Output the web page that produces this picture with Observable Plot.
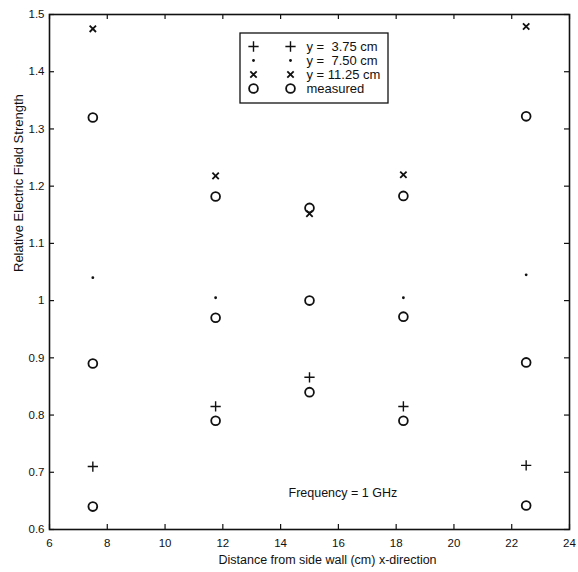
<!DOCTYPE html>
<html><head><meta charset="utf-8">
<script src="https://cdn.jsdelivr.net/npm/d3@7"></script>
<script src="https://cdn.jsdelivr.net/npm/@observablehq/plot@0.6"></script>
<style>
body{margin:0;background:#fff;}
svg text{white-space:pre;}
</style>
</head><body><div id="chart"></div>
<script>
// ---- data ----
const xPos375 = [7.5, 11.75, 15, 18.25, 22.5];
const val375  = [0.71, 0.815, 0.866, 0.815, 0.712];
const xPos750 = [7.5, 11.75, 18.25, 22.5];
const val750  = [1.04, 1.005, 1.005, 1.045];
const xPos1125 = [7.5, 11.75, 15, 18.25, 22.5];
const val1125  = [1.475, 1.218, 1.152, 1.22, 1.479];
const measuredX = [7.5, 7.5, 7.5, 11.75, 11.75, 11.75, 15, 15, 15, 18.25, 18.25, 18.25, 22.5, 22.5, 22.5];
const measuredY = [1.32, 0.89, 0.64, 1.182, 0.97, 0.79, 1.162, 1.0, 0.84, 1.183, 0.972, 0.79, 1.322, 0.892, 0.642];
const legendLabels = ["y =  3.75 cm", "y =  7.50 cm", "y = 11.25 cm", "measured"];
const legendSymbols = ["plus", "dot", "times", "circle"];
const xTicks = [6, 8, 10, 12, 14, 16, 18, 20, 22, 24];
const xTickLabels = ["6", "8", "10", "12", "14", "16", "18", "20", "22", "24"];
const yTicks = [0.6, 0.7, 0.8, 0.9, 1.0, 1.1, 1.2, 1.3, 1.4, 1.5];
const yTickLabels = ["0.6", "0.7", "0.8", "0.9", "1", "1.1", "1.2", "1.3", "1.4", "1.5"];
const xTitle = "Distance from side wall (cm) x-direction";
const yTitle = "Relative Electric Field Strength";
const note = "Frequency = 1 GHz";

// ---- layout ----
const W = 578, H = 572;
const mL = 49, mR = 9, mT = 14, mB = 43;
const xDom = [6, 24], yDom = [0.6, 1.5];
const px2x = px => xDom[0] + (px - mL) * (xDom[1] - xDom[0]) / (W - mL - mR);
const py2y = py => yDom[1] - (py - mT) * (yDom[1] - yDom[0]) / (H - mT - mB);
const tickLenX = 5 * (xDom[1] - xDom[0]) / (W - mL - mR);
const tickLenY = 5 * (yDom[1] - yDom[0]) / (H - mT - mB);

const s375 = xPos375.map((x, i) => ({x, y: val375[i]}));
const s750 = xPos750.map((x, i) => ({x, y: val750[i]}));
const s1125 = xPos1125.map((x, i) => ({x, y: val1125[i]}));
const sMeas = measuredX.map((x, i) => ({x, y: measuredY[i]}));

const legRowsPy = [46, 60, 74, 88];
const legend = legendLabels.map((label, i) => ({label, sym: legendSymbols[i], y: py2y(legRowsPy[i])}));
const legCol1 = px2x(253), legCol2 = px2x(290), legText = px2x(306);

const font = "'Liberation Sans', Arial, Helvetica, sans-serif";
const ink = "#111";

function symMarks(data, sym, xs) {
  const out = [];
  for (const xv of xs) {
    const base = {x: xv, y: "y"};
    if (sym === "plus") out.push(Plot.dot(data, {...base, symbol: "plus", r: 3.4, stroke: ink, strokeWidth: 1.4}));
    if (sym === "times") out.push(Plot.dot(data, {...base, symbol: "times", r: 3.0, stroke: ink, strokeWidth: 1.8}));
    if (sym === "dot") out.push(Plot.dot(data, {...base, r: 1.4, fill: ink, stroke: "none"}));
    if (sym === "circle") out.push(Plot.dot(data, {...base, r: 4.4, stroke: ink, strokeWidth: 1.8, fill: "none"}));
  }
  return out;
}

const legendMarks = [];
for (const row of legend) {
  legendMarks.push(...symMarks([row], row.sym, [() => legCol1, () => legCol2]));
}

const chart = Plot.plot({
  width: W, height: H,
  marginLeft: mL, marginRight: mR, marginTop: mT, marginBottom: mB,
  style: {fontFamily: font, fontSize: "11px", color: ink, background: "#fff"},
  x: {domain: xDom},
  y: {domain: yDom},
  marks: [
    Plot.frame({stroke: ink, strokeWidth: 1.6}),
    // inward ticks on all four sides
    Plot.ruleX(xTicks, {x: d => d, y1: () => yDom[0], y2: () => yDom[0] + tickLenY, stroke: ink, strokeWidth: 1.2}),
    Plot.ruleX(xTicks, {x: d => d, y1: () => yDom[1], y2: () => yDom[1] - tickLenY, stroke: ink, strokeWidth: 1.2}),
    Plot.ruleY(yTicks, {y: d => d, x1: () => xDom[0], x2: () => xDom[0] + tickLenX, stroke: ink, strokeWidth: 1.2}),
    Plot.ruleY(yTicks, {y: d => d, x1: () => xDom[1], x2: () => xDom[1] - tickLenX, stroke: ink, strokeWidth: 1.2}),
    Plot.axisX({ticks: xTicks, tickFormat: d => xTickLabels[xTicks.indexOf(d)], tickSize: 0, tickPadding: 9, label: null, fontSize: 11.5}),
    Plot.axisY({ticks: yTicks, tickFormat: d => yTickLabels[yTicks.findIndex(t => Math.abs(t - d) < 1e-9)], tickSize: 0, tickPadding: 5, label: null, fontSize: 11.5}),
    Plot.text([xTitle], {frameAnchor: "bottom", dx: 18, dy: 34, fontSize: 12.5, fill: ink}),
    Plot.text([yTitle], {frameAnchor: "left", dx: -31, rotate: -90, fontSize: 13, fill: ink}),
    // data
    ...symMarks(s375, "plus", ["x"]),
    ...symMarks(s750, "dot", ["x"]),
    ...symMarks(s1125, "times", ["x"]),
    ...symMarks(sMeas, "circle", ["x"]),
    // annotation
    Plot.text([note], {x: () => px2x(288), y: () => py2y(492), textAnchor: "start", fontSize: 12.5, fill: ink}),
    // legend
    Plot.rect([0], {x1: () => px2x(240), x2: () => px2x(388), y1: () => py2y(33), y2: () => py2y(103), fill: "#fff", stroke: ink, strokeWidth: 1.3}),
    ...legendMarks,
    Plot.text(legend, {x: () => legText, y: "y", text: "label", textAnchor: "start", fontSize: 13, fill: ink})
  ]
});
document.getElementById("chart").appendChild(chart);
</script>
</body></html>
